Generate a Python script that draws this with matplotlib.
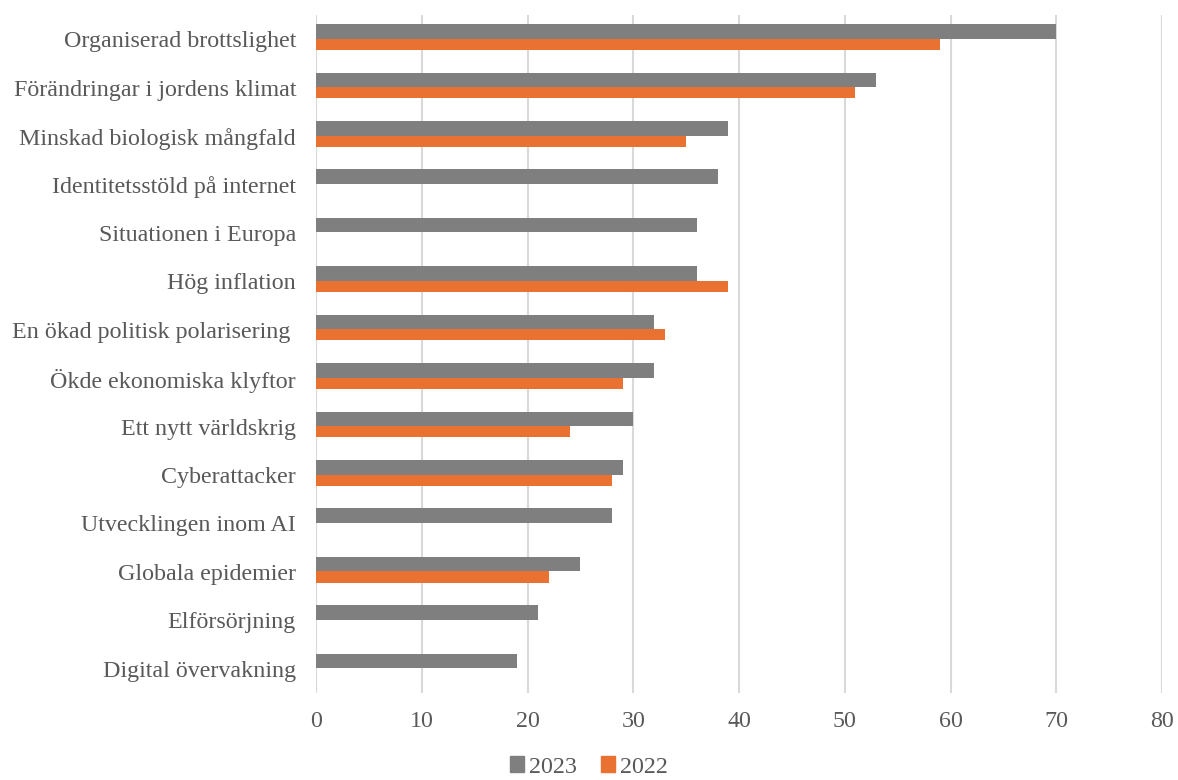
import matplotlib
matplotlib.use("Agg")
import matplotlib.pyplot as plt
import numpy as np
from matplotlib.patches import Patch

categories = [
    "Organiserad brottslighet",
    "Förändringar i jordens klimat",
    "Minskad biologisk mångfald",
    "Identitetsstöld på internet",
    "Situationen i Europa",
    "Hög inflation",
    "En ökad politisk polarisering ",
    "Ökde ekonomiska klyftor",
    "Ett nytt världskrig",
    "Cyberattacker",
    "Utvecklingen inom AI",
    "Globala epidemier",
    "Elförsörjning",
    "Digital övervakning",
]
values_2023 = [70, 53, 39, 38, 36, 36, 32, 32, 30, 29, 28, 25, 21, 19]
values_2022 = [59, 51, 35, np.nan, np.nan, 39, 33, 29, 24, 28, np.nan, 22, np.nan, np.nan]
series_labels = ["2023", "2022"]
xticks = [0, 10, 20, 30, 40, 50, 60, 70, 80]

plt.rcParams['font.family'] = ['Liberation Serif', 'DejaVu Serif']
text_color = "#595959"
gray = "#7F7F7F"
orange = "#E97132"
fs = 17.3

fig = plt.figure(figsize=(11.78, 7.80), dpi=100)
ax = fig.add_axes([316/1178, 1 - 693/780, (1162-316)/1178, (693-15)/780])

y = np.arange(len(categories))
h23 = 0.30
h22 = 0.23
ax.barh(y - 0.01, values_2022, height=h22, align='edge', color=orange, zorder=2)
ax.barh(y - 0.01, values_2023, height=-h23, align='edge', color=gray, zorder=3)

ax.set_xlim(0, 80)
ax.set_ylim(len(categories) - 0.5, -0.5)
ax.set_yticks(y)
ax.set_yticklabels(categories)
ax.set_xticks(xticks)
ax.set_xticklabels([str(v) for v in xticks])
ax.tick_params(axis='y', length=0, pad=14.4, labelsize=fs, labelcolor=text_color)
ax.tick_params(axis='x', length=0, pad=13, labelsize=fs, labelcolor=text_color)
ax.grid(axis='x', color="#D9D9D9", linewidth=1.5, zorder=0)
ax.set_axisbelow(True)
for s in ax.spines.values():
    s.set_visible(False)

handles = [Patch(color=gray), Patch(color=orange)]
fig.legend(handles, series_labels, loc='center', bbox_to_anchor=(0.5, 1 - 767/780),
           ncol=2, frameon=False, fontsize=fs, labelcolor=text_color,
           handlelength=0.6, handleheight=0.6, handletextpad=0.2, columnspacing=1.0,
           borderpad=0.1)

fig.savefig("out.png", dpi=100)
